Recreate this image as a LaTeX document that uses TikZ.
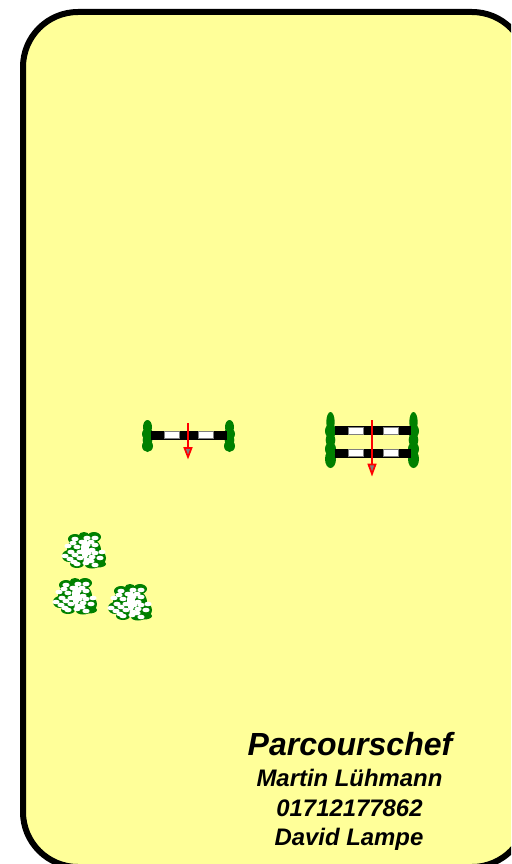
\documentclass[tikz,border=0pt]{standalone}
\usepackage{fontspec}
\setmainfont{Liberation Sans}
\usepackage{tikz}
\usetikzlibrary{arrows.meta, calc, positioning}

\definecolor{sandfill}{HTML}{FFFF99}
\definecolor{wingfill}{HTML}{008000}
\tikzset{
  barwhite/.style={fill=white, draw=gray, line width=1pt},
  directline/.style={draw=red, line width=1.5pt},
  directtip/.style={fill=gray, draw=red, line width=1.7pt, line join=miter},
  titletext/.style={font=\bfseries\itshape\fontsize{32}{34}\selectfont, inner sep=0pt, anchor=base},
  nametext/.style={font=\bfseries\itshape\fontsize{23.9}{26}\selectfont, inner sep=0pt, anchor=base},
}

% eine Stange
\newcommand{\polebar}[2]{%
  \fill[black] (#1,#2-4.5) rectangle ++(76,9);
  \draw[barwhite] (#1+13.5,#2-3.5) rectangle ++(15,7);
  \draw[barwhite] (#1+48,#2-3.5) rectangle ++(15,7);
}
% kurzes Seitenteil
\newcommand{\shortwing}[2]{%
  \foreach \lobey/\lobex/\lobeh in {7/4.5/7, 14/5.5/6, 20/4.8/6, 26/5.5/6}{
    \fill[wingfill] (#1,#2+\lobey) ellipse [x radius=\lobex, y radius=\lobeh];
  }
}
% langes Seitenteil
\newcommand{\longwing}[2]{%
  \foreach \lobey/\lobex/\lobeh in {10/4.2/10, 19/5.5/7, 28/4.8/7, 37/5.5/7, 47/5.5/9}{
    \fill[wingfill] (#1,#2+\lobey) ellipse [x radius=\lobex, y radius=\lobeh];
  }
}
% Busch
\newcommand{\flowerbush}[2]{%
  \begin{scope}[shift={(#1,#2)}]
    \fill[wingfill] (0,0) ellipse (17 and 14);
    \foreach \bx/\by/\bw/\bh in {-9/-11/7/5, 10/-13/7/5, 0/-15/5/3, -15/6/7/6, 15/8/7/7, 14/14/8/3.5, -7/14/7/4, 8/15/7/3.5}{
      \fill[wingfill] (\bx,\by) ellipse [x radius=\bw, y radius=\bh];
    }
    \foreach \bx/\by in {-9/-11, 3/-12, 11/-12, -16/-4, -7/-3, 3/-5, 11/-5, 18/2, -13/2, -4/2, 4/3, 11/3, -14/9, -4/8, 3/10, 16/8, -7/14, 2/13, 11/15, -2/-8, 7/-8, -11/-7, 8/0, -9/5, 8/7, -10/12, 7/11, -19/6}{
      \fill[white] (\bx,\by) ellipse (3.6 and 2.3);
    }
    \fill[white] (1,-1) ellipse (4 and 10);
  \end{scope}
}

\begin{document}
\begin{tikzpicture}[x=1pt, y=-1pt]
  \useasboundingbox (0,0) rectangle (511,864);

  % Platz
  \begin{scope}
    \clip (0,0) rectangle (511,864);
    \draw[line width=6pt, fill=sandfill, rounded corners=55pt] (23,12) rectangle (527,867);
  \end{scope}

  % Steilsprung
  \shortwing{147.5}{420}
  \shortwing{229.5}{420}
  \polebar{150.5}{435}
  \draw[directline] (188,423) -- (188,449);
  \draw[directtip] (184.5,448) -- (191.5,448) -- (188,457) -- cycle;

  % Oxer
  \longwing{330.5}{412}
  \longwing{413.5}{412}
  \polebar{335}{430.5}
  \polebar{335}{453}
  \draw[directline] (372,420) -- (372,465);
  \draw[directtip] (368.5,464.5) -- (375.5,464.5) -- (372,474) -- cycle;

  % Hecken
  \flowerbush{84}{550}
  \flowerbush{75}{596}
  \flowerbush{130}{602}

  % Text
  \node[titletext] (title) at (350,755) {Parcourschef};
  \node[nametext] (martin) at (349.5,786.5) {Martin Lühmann};
  \node[nametext] (phone) at (349.5,816) {01712177862};
  \node[nametext] (david) at (349,845) {David Lampe};
\end{tikzpicture}
\end{document}
